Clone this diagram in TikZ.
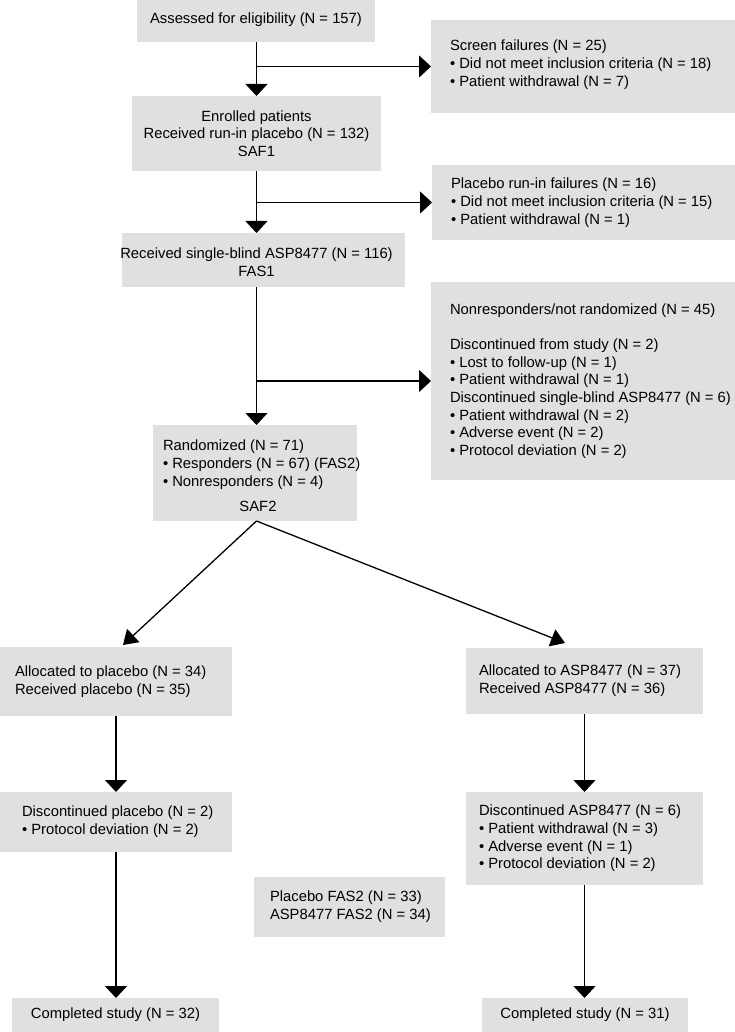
\documentclass[tikz,border=0pt]{standalone}
\usepackage{fontspec}
\setmainfont{Liberation Sans}
\usetikzlibrary{arrows.meta,calc}
\definecolor{boxgray}{RGB}{224,224,224}
\begin{document}
\begin{tikzpicture}[x=1pt,y=-1pt,
  box/.style={fill=boxgray,draw=none,inner sep=0pt,outer sep=0pt},
  txt/.style={inner sep=0pt,outer sep=0pt,font=\fontsize{14.8}{17.7}\selectfont},
  arr/.style={line width=1.3pt,-{Triangle[length=12pt,width=22pt]}},
  darr/.style={line width=1.3pt,-{Triangle[length=14pt,width=18pt]}}]
\useasboundingbox (0,0) rectangle (735,1032);

% boxes
\node[box,minimum width=238pt,minimum height=42pt] (b1) at (256,21) {};
\node[box,minimum width=304pt,minimum height=93pt] (sf) at (583,66.5) {};
\node[box,minimum width=249pt,minimum height=75pt] (b2) at (256.5,133.5) {};
\node[box,minimum width=303pt,minimum height=75pt] (pr) at (583.5,202.5) {};
\node[box,minimum width=283pt,minimum height=54pt] (b3) at (263.5,260) {};
\node[box,minimum width=304pt,minimum height=198pt] (nr) at (583,381) {};
\node[box,minimum width=204pt,minimum height=96pt] (b4) at (255,473) {};
\node[box,minimum width=232pt,minimum height=69pt] (a1) at (116,681.5) {};
\node[box,minimum width=237pt,minimum height=66pt] (a2) at (584.5,681) {};
\node[box,minimum width=232pt,minimum height=60pt] (d1) at (116,822) {};
\node[box,minimum width=237pt,minimum height=93pt] (d2) at (584.5,838.5) {};
\node[box,minimum width=191pt,minimum height=60pt] (fas) at (349.5,907) {};
\node[box,minimum width=207pt,minimum height=34pt] (c1) at (115.5,1015) {};
\node[box,minimum width=206pt,minimum height=34pt] (c2) at (585,1015) {};

\coordinate (sp) at (256.5,0);

% texts
\node[txt,align=center] (tb1) at ($(b1.center)+(0,-1)$) {Assessed for eligibility (N = 157)};
\node[txt,align=left,anchor=west] (tsf) at ($(sf.west)+(19,-2)$) {Screen failures (N = 25)\\• Did not meet inclusion criteria (N = 18)\\• Patient withdrawal (N = 7)};
\node[txt,align=center] (tb2) at (b2.center) {Enrolled patients\\Received run-in placebo (N = 132)\\SAF1};
\node[txt,align=left,anchor=west] (tpr) at ($(pr.west)+(19,0)$) {Placebo run-in failures (N = 16)\\• Did not meet inclusion criteria (N = 15)\\• Patient withdrawal (N = 1)};
\node[txt,align=center] (tb3) at ($(b3.center -| sp)+(0,2)$) {Received single-blind ASP8477 (N = 116)\\FAS1};
\node[txt,align=left,anchor=west] (tnr) at ($(nr.west)+(19,0)$) {Nonresponders/not randomized (N = 45)\\[17.7pt]Discontinued from study (N = 2)\\• Lost to follow-up (N = 1)\\• Patient withdrawal (N = 1)\\Discontinued single-blind ASP8477 (N = 6)\\• Patient withdrawal (N = 2)\\• Adverse event (N = 2)\\• Protocol deviation (N = 2)};
\node[txt,align=left,anchor=west] (tb4) at ($(b4.west)+(10,3)$) {Randomized (N = 71)\\• Responders (N = 67) (FAS2)\\• Nonresponders (N = 4)\\[8pt]\makebox[190pt][c]{SAF2}};
\node[txt,align=left,anchor=west] (ta1) at ($(a1.west)+(15,0)$) {Allocated to placebo (N = 34)\\Received placebo (N = 35)};
\node[txt,align=left,anchor=west] (ta2) at ($(a2.west)+(13,0)$) {Allocated to ASP8477 (N = 37)\\Received ASP8477 (N = 36)};
\node[txt,align=left,anchor=west] (td1) at ($(d1.west)+(22,0)$) {Discontinued placebo (N = 2)\\• Protocol deviation (N = 2)};
\node[txt,align=left,anchor=west] (td2) at ($(d2.west)+(13,0)$) {Discontinued ASP8477 (N = 6)\\• Patient withdrawal (N = 3)\\• Adverse event (N = 1)\\• Protocol deviation (N = 2)};
\node[txt,align=left,anchor=west] (tfas) at ($(fas.west)+(16,0)$) {Placebo FAS2 (N = 33)\\ASP8477 FAS2 (N = 34)};
\node[txt,align=center] (tc1) at (c1.center) {Completed study (N = 32)};
\node[txt,align=center] (tc2) at (c2.center) {Completed study (N = 31)};

% connectors
\draw[arr] (b1.south -| sp) -- (b2.north -| sp);
\draw[arr] (sf.west -| sp) -- (sf.west);
\draw[arr] (b2.south -| sp) -- (b3.north -| sp);
\draw[arr] (pr.west -| sp) -- (pr.west);
\draw[arr] (b3.south -| sp) -- (b4.north -| sp);
\draw[arr] (nr.west -| sp) -- (nr.west);
\draw[darr] (b4.south -| sp) -- ($(a1.north)+(7,-2)$);
\draw[darr] (b4.south -| sp) -- ($(a2.north)+(-19.5,-5)$);
\draw[arr] (a1.south) -- (d1.north);
\draw[arr] (a2.south) -- (d2.north);
\draw[arr] (d1.south) -- (d1.south |- c1.north);
\draw[arr] (d2.south) -- (d2.south |- c2.north);
\end{tikzpicture}
\end{document}
